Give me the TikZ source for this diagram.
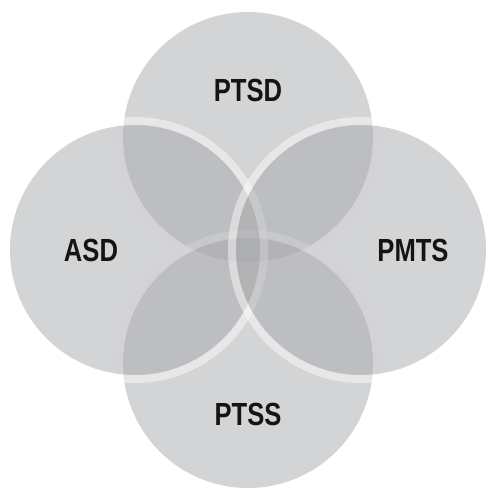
\documentclass[tikz,border=0pt]{standalone}
\usepackage{fontspec}
\newfontfamily\vennfont[FakeStretch=0.8]{Liberation Sans}
\definecolor{venngray}{RGB}{168,169,172}
\tikzset{
  vennfill/.style={fill=venngray, fill opacity=0.5},
  vennring/.style={draw=white, draw opacity=0.45, line width=8pt},
  venntext/.style={font=\vennfont\bfseries\fontsize{32}{38}\selectfont, text=black!92}
}

\begin{document}
\begin{tikzpicture}[x=1pt,y=1pt]

  \useasboundingbox (-248,-239) rectangle (239,250);

  % circles, drawn top, bottom, left, right
  \foreach \theta in {90,270,180,0}{
    \draw[vennring] (\theta:113) circle [radius=129];
    \fill[vennfill] (\theta:113) circle [radius=125];
  }

  % labels
  \foreach \theta/\dist/\name/\txt in {90/160/ptsd/PTSD,180/157/asd/ASD,0/165/pmts/PMTS,270/164/ptss/PTSS}{
    \node[venntext] (\name) at (\theta:\dist) {\txt};
  }

\end{tikzpicture}
\end{document}
